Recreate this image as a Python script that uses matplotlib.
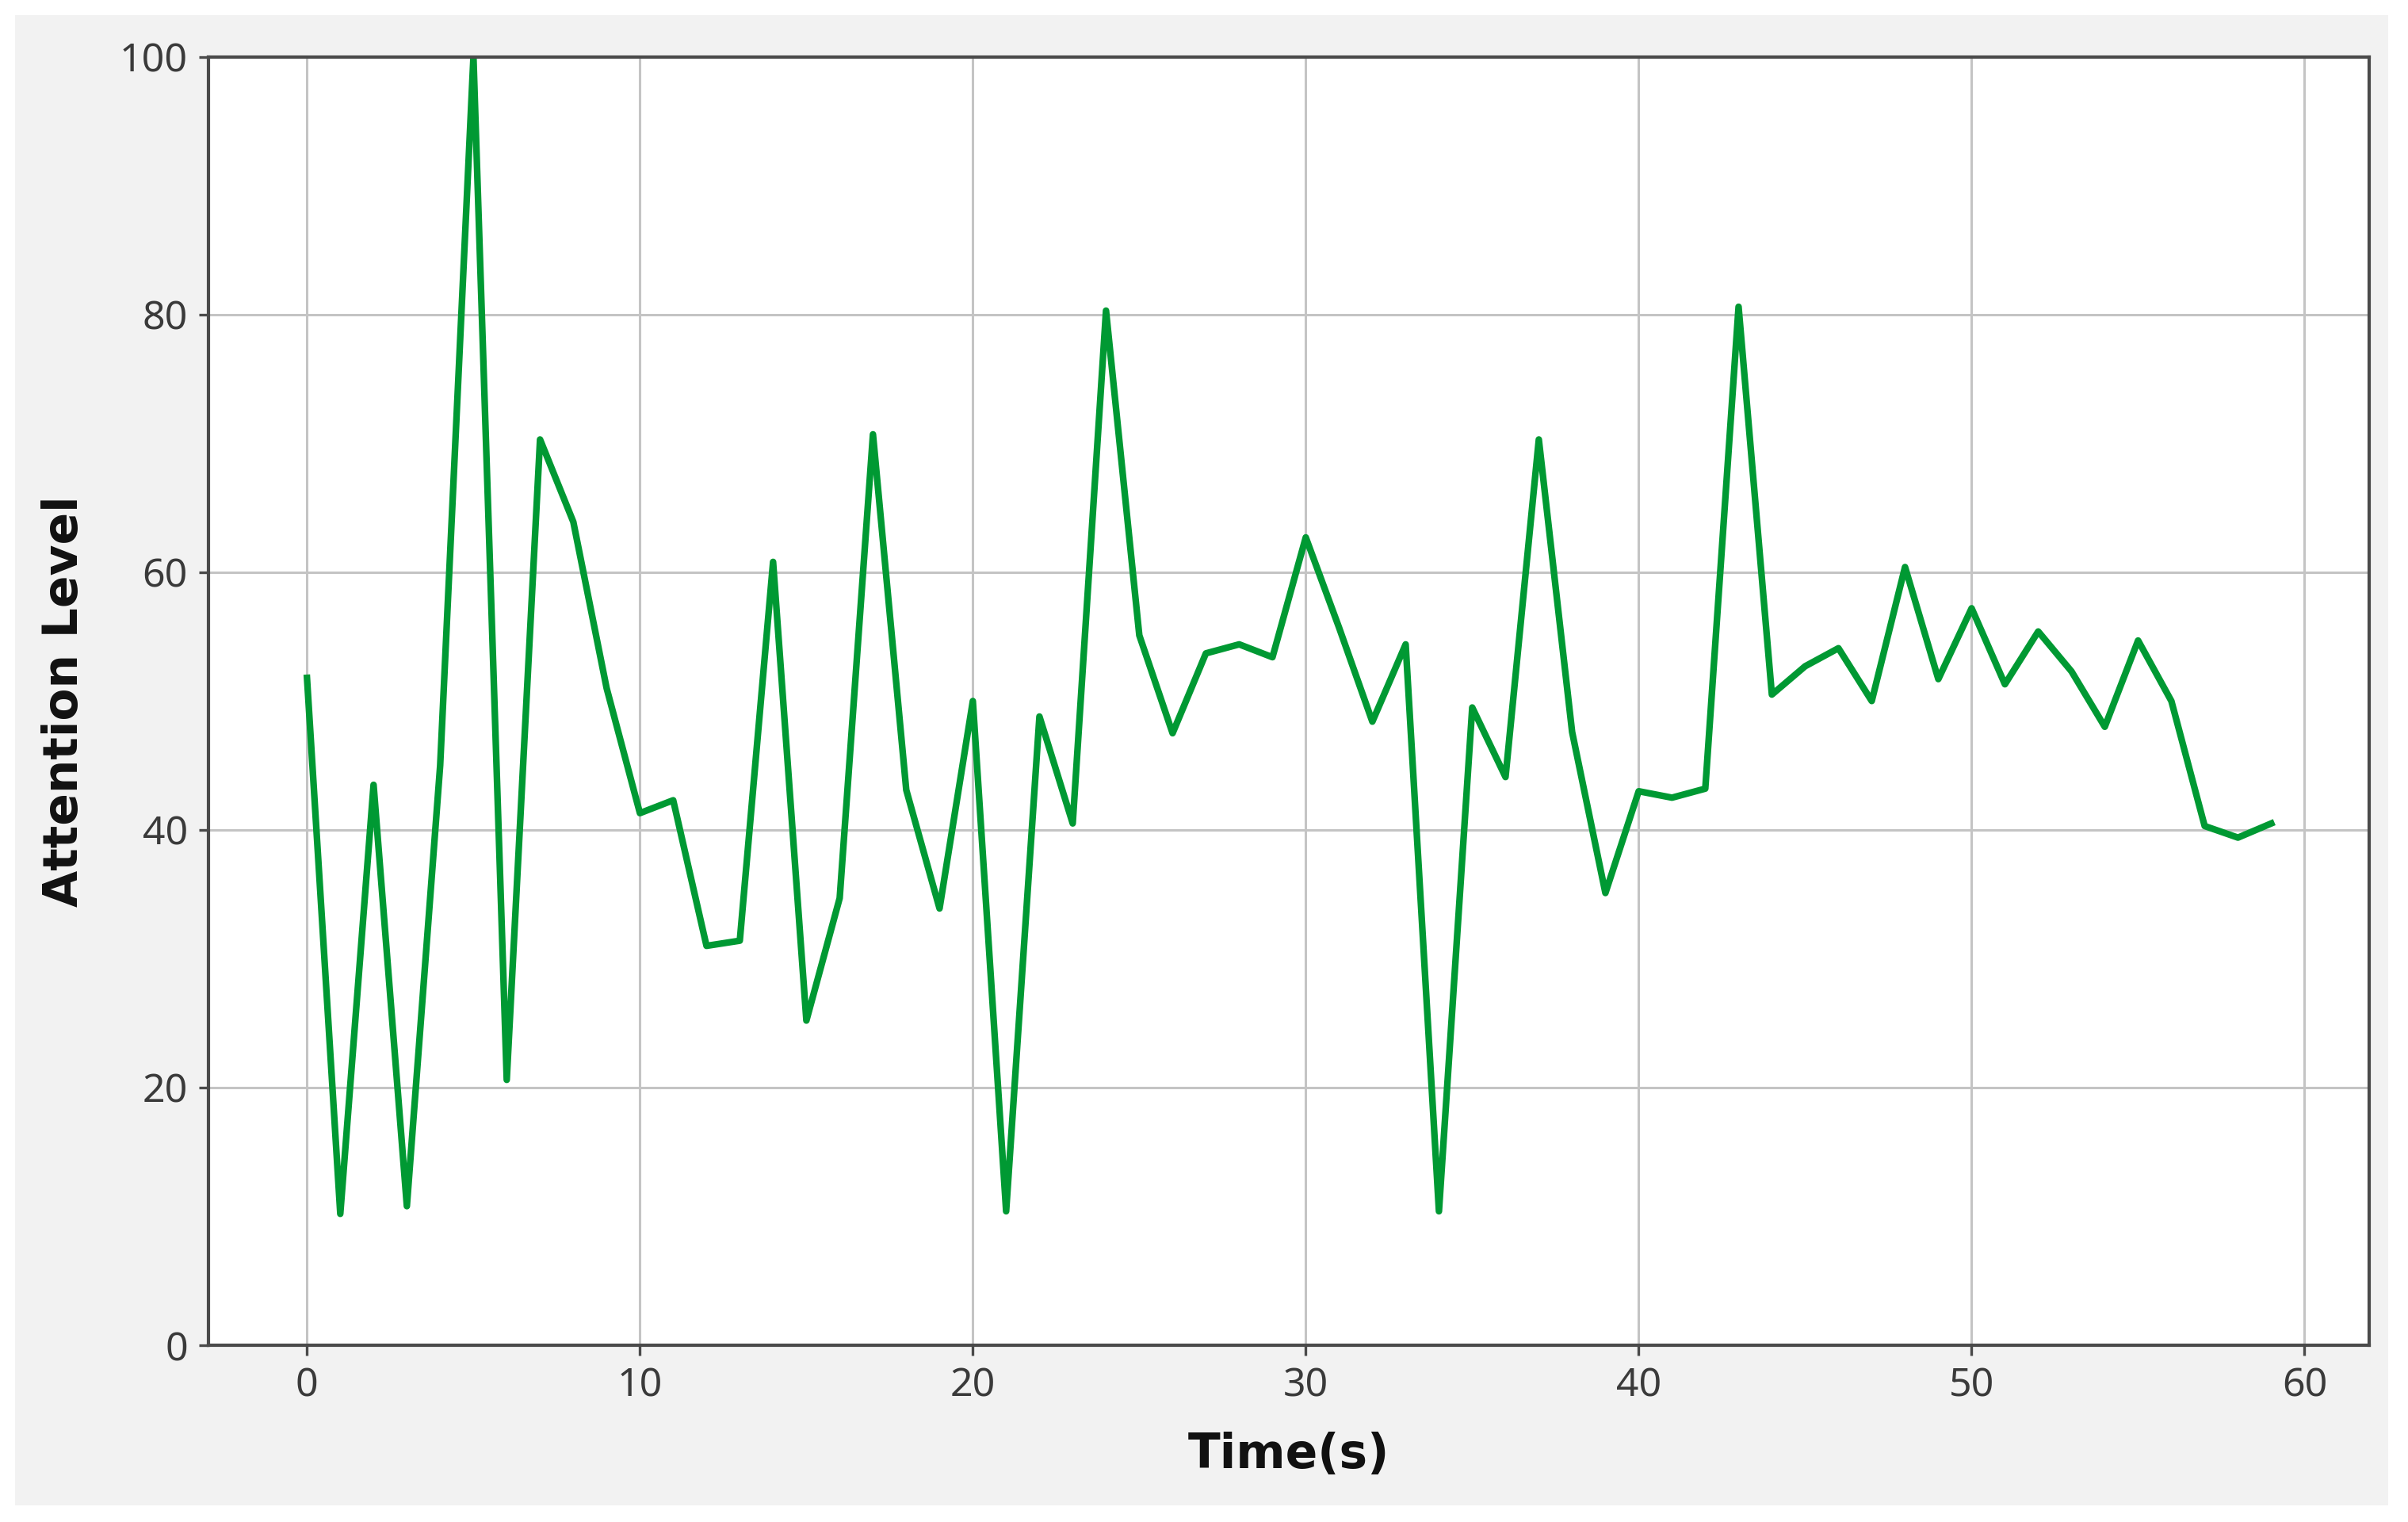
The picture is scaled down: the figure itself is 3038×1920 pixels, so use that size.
import matplotlib
matplotlib.use("Agg")
import matplotlib.pyplot as plt
from matplotlib.patches import Rectangle

# Attention level per second
time_s = list(range(60))
attention = [
    51.8, 10.2, 43.5, 10.8, 45.0, 100.0, 20.6, 70.3, 63.9, 51.0,
    41.3, 42.3, 31.0, 31.4, 60.8, 25.2, 34.7, 70.7, 43.1, 33.9,
    50.0, 10.4, 48.8, 40.5, 80.3, 55.1, 47.5, 53.7, 54.4, 53.4,
    62.7, 55.7, 48.4, 54.4, 10.4, 49.5, 44.1, 70.3, 47.6, 35.1,
    43.0, 42.5, 43.2, 80.6, 50.5, 52.7, 54.1, 50.0, 60.4, 51.7,
    57.2, 51.3, 55.4, 52.3, 48.0, 54.7, 50.0, 40.3, 39.4, 40.5,
]
x_ticks = [0, 10, 20, 30, 40, 50, 60]
y_ticks = [0, 20, 40, 60, 80, 100]

plt.rcParams['font.family'] = ['Noto Sans', 'DejaVu Sans']

fig = plt.figure(figsize=(15.19, 9.6), dpi=200, facecolor='white')
# light grey panel behind the chart, white border around it
fig.patches.append(Rectangle((0.0064, 0.011), 0.9854, 0.979, transform=fig.transFigure,
                             facecolor='#f2f2f2', edgecolor='none', zorder=-10))

ax = fig.add_axes([0.0867, 0.1161, 0.8973, 0.8466])
ax.set_facecolor('white')
ax.plot(time_s, attention, color='#009933', linewidth=3.0)

ax.set_xlim(-2.95, 61.95)
ax.set_ylim(0, 100)
ax.set_xticks(x_ticks)
ax.set_yticks(y_ticks)
ax.grid(True, color='#c4c4c4', linewidth=1.1)
ax.set_axisbelow(True)

for s in ax.spines.values():
    s.set_color('#4a4a4a')
    s.set_linewidth(1.5)
ax.tick_params(axis='both', length=4.5, width=1.2, color='#4a4a4a',
               labelsize=18, labelcolor='#3a3a3a', pad=5)

label_font = dict(family='DejaVu Sans', fontsize=21.5, fontweight='bold', color='#111111')
ax.set_xlabel('Time(s)', **label_font)
ax.set_ylabel('Attention Level', **label_font)
ax.xaxis.set_label_coords(0.5, -0.067)
ax.yaxis.set_label_coords(-0.056, 0.5)

fig.savefig('out.png', dpi=200, facecolor=fig.get_facecolor())
